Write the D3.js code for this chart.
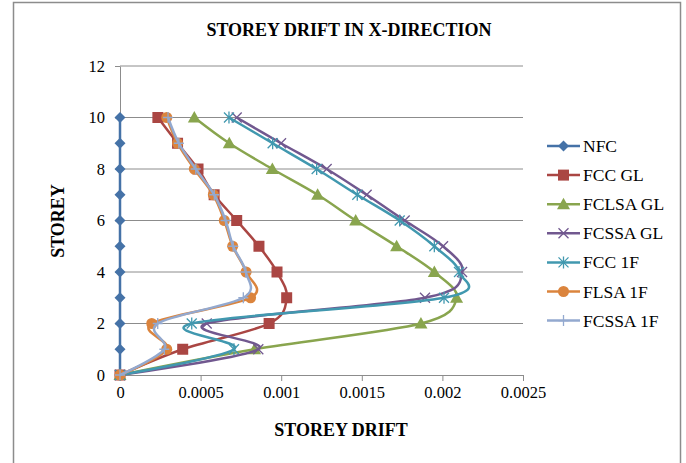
<!DOCTYPE html>
<html>
<head>
<meta charset="utf-8">
<script src="https://cdn.jsdelivr.net/npm/d3@7"></script>
<style>
  html, body { margin: 0; padding: 0; background: #fff; }
  svg { display: block; }
  svg text { font-family: "Liberation Serif", "Times New Roman", serif !important; fill: #000; }
</style>
</head>
<body>
<svg id="chart" width="686" height="463"></svg>
<script>
// Storey levels (y) and drift values (x) for each model
const storeys = [0, 1, 2, 3, 4, 5, 6, 7, 8, 9, 10];

const nfc      = [0, 0, 0, 0, 0, 0, 0, 0, 0, 0, 0];
const fccGL    = [0, 0.000389, 0.000925, 0.001034, 0.000974, 0.000862, 0.000724, 0.000584, 0.000484, 0.000357, 0.000235];
const fclsaGL  = [0, 0.000835, 0.001867, 0.002088, 0.001950, 0.001716, 0.001462, 0.001226, 0.000945, 0.000678, 0.000461];
const fcssaGL  = [0, 0.000858, 0.000538, 0.001892, 0.002122, 0.002004, 0.001766, 0.001530, 0.001282, 0.000999, 0.000724];
const fcc1F    = [0, 0.000707, 0.000445, 0.002010, 0.002103, 0.001950, 0.001735, 0.001472, 0.001220, 0.000947, 0.000676];
const flsa1F   = [0, 0.000290, 0.000197, 0.000810, 0.000782, 0.000699, 0.000647, 0.000579, 0.000461, 0.000357, 0.000290];
const fcssa1F  = [0, 0.000275, 0.000234, 0.000765, 0.000780, 0.000702, 0.000655, 0.000585, 0.000470, 0.000365, 0.000298];

const seriesNames = ["NFC", "FCC GL", "FCLSA GL", "FCSSA GL", "FCC 1F", "FLSA 1F", "FCSSA 1F"];
const seriesValues = [nfc, fccGL, fclsaGL, fcssaGL, fcc1F, flsa1F, fcssa1F];
const seriesColors = ["#4572A7", "#AA4643", "#89A54E", "#71588F", "#4198AF", "#DB843D", "#93A9CF"];
const seriesMarkers = ["diamond", "square", "triangle", "cross", "asterisk", "circle", "plus"];

const xTicks = [0, 0.0005, 0.001, 0.0015, 0.002, 0.0025];
const xTickLabels = ["0", "0.0005", "0.001", "0.0015", "0.002", "0.0025"];
const yTicks = [0, 2, 4, 6, 8, 10, 12];

const FONT = "'Liberation Serif', 'Times New Roman', serif";
const svg = d3.select("#chart");

// Outer chart frame
svg.append("rect")
  .attr("x", 13.5).attr("y", 2.5)
  .attr("width", 667).attr("height", 480)
  .attr("fill", "#fff")
  .attr("stroke", "#8c8c8c")
  .attr("stroke-width", 1.5);

const plot = { left: 120, right: 523, top: 66, bottom: 375 };

const x = d3.scaleLinear().domain([0, 0.0025]).range([plot.left, plot.right]);
const y = d3.scaleLinear().domain([0, 12]).range([plot.bottom, plot.top]);

// Horizontal gridlines
svg.append("g")
  .selectAll("line")
  .data(yTicks.filter(t => t > 0))
  .join("line")
  .attr("x1", plot.left).attr("x2", plot.right)
  .attr("y1", d => y(d)).attr("y2", d => y(d))
  .attr("stroke", "#8c8c8c").attr("stroke-width", 1);

// X axis
const xAxis = svg.append("g")
  .attr("transform", `translate(0,${plot.bottom})`)
  .call(d3.axisBottom(x).tickValues(xTicks)
    .tickFormat((d, i) => xTickLabels[i]).tickSizeInner(6).tickSizeOuter(0).tickPadding(5))
  .attr("font-family", FONT).attr("font-size", 16.5);
xAxis.select(".domain").attr("stroke", "#8c8c8c").attr("stroke-width", 1);
xAxis.selectAll(".tick line").attr("stroke", "#8c8c8c");
xAxis.selectAll(".tick text").attr("fill", "#000");

// Y axis
const yAxis = svg.append("g")
  .attr("transform", `translate(${plot.left},0)`)
  .call(d3.axisLeft(y).tickValues(yTicks).tickSizeInner(5).tickSizeOuter(0).tickPadding(10))
  .attr("font-family", FONT).attr("font-size", 16.5);
yAxis.select(".domain").attr("stroke", "#8c8c8c").attr("stroke-width", 1);
yAxis.selectAll(".tick line").attr("stroke", "#8c8c8c");
yAxis.selectAll(".tick text").attr("fill", "#000");

// Marker drawing
function drawMarker(g, type, color) {
  switch (type) {
    case "diamond":
      g.append("path").attr("d", "M0,-5.5L5.5,0L0,5.5L-5.5,0Z").attr("fill", color);
      break;
    case "square":
      g.append("rect").attr("x", -5.5).attr("y", -5.5).attr("width", 11).attr("height", 11).attr("fill", color);
      break;
    case "triangle":
      g.append("path").attr("d", "M0,-6.5L6.5,5L-6.5,5Z").attr("fill", color);
      break;
    case "circle":
      g.append("circle").attr("r", 5.5).attr("fill", color);
      break;
    case "cross":
      g.append("path").attr("d", "M-5,-5L5,5M-5,5L5,-5").attr("stroke", color).attr("stroke-width", 1.3).attr("fill", "none");
      break;
    case "asterisk":
      g.append("path").attr("d", "M-5,-5L5,5M-5,5L5,-5M0,-6L0,6").attr("stroke", color).attr("stroke-width", 1.3).attr("fill", "none");
      break;
    case "plus":
      g.append("path").attr("d", "M-5,0L5,0M0,-5.5L0,5.5").attr("stroke", color).attr("stroke-width", 1.3).attr("fill", "none");
      break;
  }
}

// Smoothed lines
const line = d3.line()
  .x(d => x(d.v))
  .y(d => y(d.s))
  .curve(d3.curveCatmullRom.alpha(0));

const seriesGroup = svg.append("g");
seriesValues.forEach((vals, i) => {
  const pts = vals.map((v, k) => ({ v, s: storeys[k] }));
  const g = seriesGroup.append("g");
  g.append("path")
    .datum(pts)
    .attr("d", line)
    .attr("fill", "none")
    .attr("stroke", seriesColors[i])
    .attr("stroke-width", 2.5)
    .attr("stroke-linejoin", "round");
  pts.forEach(p => {
    const m = g.append("g").attr("transform", `translate(${x(p.v)},${y(p.s)})`);
    drawMarker(m, seriesMarkers[i], seriesColors[i]);
  });
});

// Title and axis titles
svg.append("text")
  .attr("x", 349).attr("y", 36)
  .attr("text-anchor", "middle")
  .attr("font-family", FONT)
  .style("font-size", "18px").style("font-weight", "bold")
  .text("STOREY DRIFT IN X-DIRECTION");

svg.append("text")
  .attr("x", 341).attr("y", 436)
  .attr("text-anchor", "middle")
  .attr("font-family", FONT)
  .style("font-size", "18px").style("font-weight", "bold")
  .text("STOREY DRIFT");

svg.append("text")
  .attr("transform", "translate(64,221) rotate(-90)")
  .attr("text-anchor", "middle")
  .attr("font-family", FONT)
  .style("font-size", "18px").style("font-weight", "bold")
  .text("STOREY");

// Legend
const legend = svg.append("g");
seriesNames.forEach((name, i) => {
  const ly = 146 + i * 29.1;
  const g = legend.append("g");
  g.append("line")
    .attr("x1", 547).attr("x2", 580)
    .attr("y1", ly).attr("y2", ly)
    .attr("stroke", seriesColors[i]).attr("stroke-width", 2.5);
  const m = g.append("g").attr("transform", `translate(563.5,${ly})`);
  drawMarker(m, seriesMarkers[i], seriesColors[i]);
  g.append("text")
    .attr("x", 583).attr("y", ly + 6)
    .attr("font-family", FONT)
    .style("font-size", "17.5px")
    .text(name);
});
</script>
</body>
</html>
